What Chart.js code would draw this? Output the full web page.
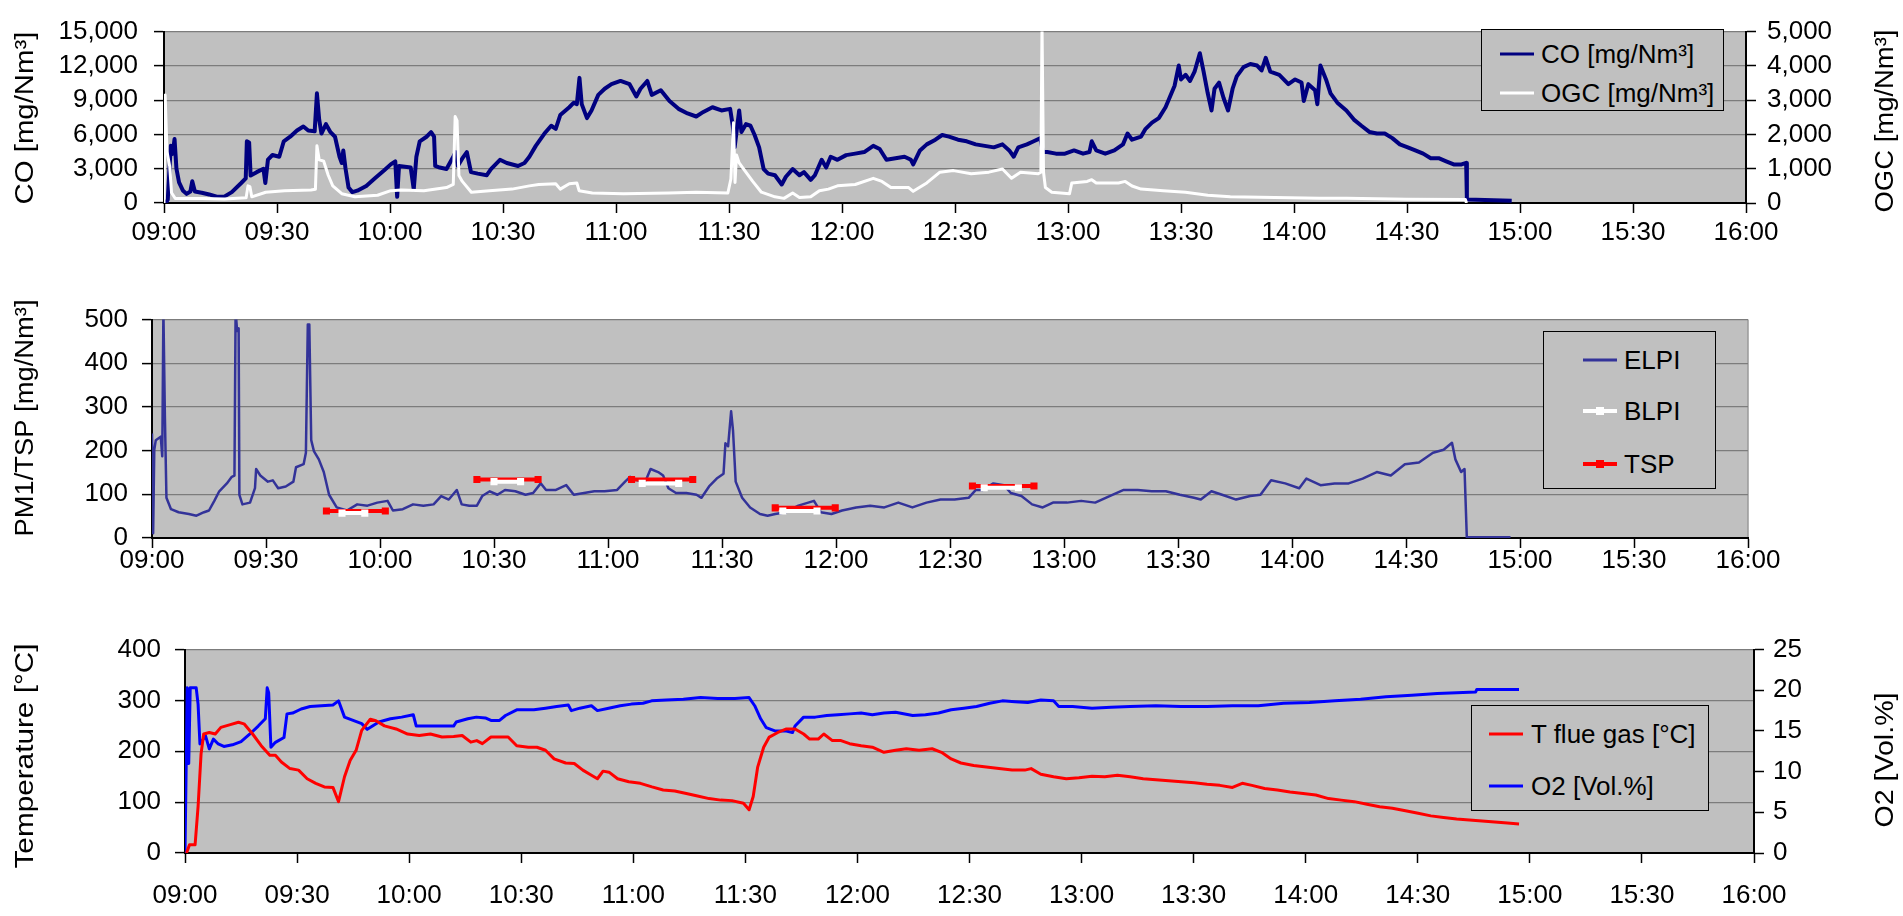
<!DOCTYPE html>
<html>
<head>
<meta charset="utf-8">
<script src="https://cdn.jsdelivr.net/npm/chart.js@4.4.1/dist/chart.umd.min.js"></script>
<style>
  body { margin: 0; background: #fff; width: 1903px; height: 916px; overflow: hidden; position: relative;
         font-family: "Liberation Sans", Arial, sans-serif; }
  canvas { position: absolute; left: 0; }
  .lg { position: absolute; background: #c0c0c0; border: 1px solid #000; box-sizing: border-box; z-index: 5; }
  .sw { position: absolute; width: 34px; transform: translateY(-50%); }
  .mk { position: absolute; width: 8px; height: 8px; transform: translate(-50%, -50%); }
  .tx { position: absolute; font-size: 26px; line-height: 30px; transform: translateY(-50%); white-space: nowrap; color: #000; }
</style>
</head>
<body>
<canvas id="c1" width="1903" height="260" style="top:0"></canvas>
<canvas id="c2" width="1903" height="300" style="top:290px"></canvas>
<canvas id="c3" width="1903" height="296" style="top:620px"></canvas>

<div class="lg" style="left:1481px;top:29px;width:243px;height:82px">
  <div class="sw" style="left:18px;top:24px;height:3px;background:#000080"></div>
  <div class="tx" style="left:59px;top:24px">CO [mg/Nm³]</div>
  <div class="sw" style="left:18px;top:63px;height:3px;background:#fff"></div>
  <div class="tx" style="left:59px;top:63px">OGC [mg/Nm³]</div>
</div>
<div class="lg" style="left:1543px;top:331px;width:173px;height:158px">
  <div class="sw" style="left:39px;top:28px;height:3px;background:#333399"></div>
  <div class="tx" style="left:80px;top:28px">ELPI</div>
  <div class="sw" style="left:39px;top:79px;height:4px;background:#fff"></div>
  <div class="mk" style="left:56px;top:79px;background:#fff"></div>
  <div class="tx" style="left:80px;top:79px">BLPI</div>
  <div class="sw" style="left:39px;top:132px;height:4px;background:#f00"></div>
  <div class="mk" style="left:56px;top:132px;background:#f00"></div>
  <div class="tx" style="left:80px;top:132px">TSP</div>
</div>
<div class="lg" style="left:1471px;top:705px;width:238px;height:106px">
  <div class="sw" style="left:17px;top:28px;height:3px;background:#f00"></div>
  <div class="tx" style="left:59px;top:28px">T flue gas [°C]</div>
  <div class="sw" style="left:17px;top:80px;height:3px;background:#00f"></div>
  <div class="tx" style="left:59px;top:80px">O2 [Vol.%]</div>
</div>

<script>
// time axis in minutes after midnight, 09:00 .. 16:00
const TIME_LABELS = ['09:00', '09:30', '10:00', '10:30', '11:00', '11:30', '12:00', '12:30',
  '13:00', '13:30', '14:00', '14:30', '15:00', '15:30', '16:00'];

// [minute, mg/Nm3]
const CO = [[540.5,0],[541,300],[541.8,5000],[542.3,4300],[542.8,5600],[543.3,3000],[544,1800],[545,1100],[546,800],[547,1000],[547.5,1900],[548.2,1000],[550,900],[552,750],[554,550],[556,560],[558,950],[560.5,1750],[561.7,2160],[562,5400],[562.6,5300],[563,2400],[564.6,2700],[566.4,3000],[566.9,1750],[567.6,3800],[568.8,4200],[570.6,4050],[571.8,5400],[573.5,5800],[575.3,6350],[577,6700],[578.3,6350],[580,6270],[580.6,9600],[581.2,7300],[581.8,6080],[583,6900],[584.2,6200],[585.4,5800],[586.6,4050],[587.2,3500],[587.6,4600],[588.2,3000],[589,1350],[590,950],[591.3,1080],[593.7,1490],[596,2160],[598.4,2840],[600.2,3380],[601.4,3650],[601.9,540],[602.4,3240],[605.5,3100],[606.3,1200],[607,4050],[607.9,5400],[609.7,5800],[610.9,6200],[611.7,5800],[612,3240],[613.2,3100],[615,2970],[616.8,4050],[617.4,4460],[618,3240],[619.2,3900],[620.4,4460],[621.5,2700],[623.3,2570],[625.7,2430],[626.8,2970],[629.2,3780],[631,3500],[634,3240],[635.7,3500],[637,4050],[638.7,5000],[641,6080],[642.8,6760],[644,6490],[645.2,7700],[647.6,8380],[648.8,8780],[649.6,8650],[650.3,10950],[650.9,8650],[652.3,7430],[653.5,8100],[655.3,9460],[657,10000],[658.8,10400],[661.2,10680],[663.6,10400],[665.4,9320],[666.5,10000],[668.3,10680],[669.5,9460],[671.9,9860],[674.2,8920],[676.6,8240],[679,7840],[681.3,7570],[683.2,7970],[685.6,8380],[688,8100],[690.3,8240],[691,6760],[691.5,4870],[692.7,8100],[693.3,6220],[694.5,6900],[695.7,6760],[696.8,5950],[698,4870],[699.2,2970],[700.4,2570],[702.2,2430],[704,1620],[705.1,2300],[706.9,2970],[708.7,2430],[709.9,2700],[711.7,2030],[712.8,2430],[714.6,3780],[715.8,3100],[717,4050],[718.8,3780],[721.1,4190],[723.5,4320],[725.9,4460],[728.3,5000],[730,4730],[731.8,3780],[734.2,3920],[736.6,4050],[738.3,3780],[738.9,3380],[740.7,4600],[742.5,5130],[744.8,5540],[746.6,5950],[748.4,5810],[750.8,5540],[753.1,5400],[755.5,5130],[757.9,5000],[760.3,4870],[762.6,5130],[764.4,4600],[765.6,4050],[766.8,4870],[769.1,5130],[770.9,5400],[772.7,5680],[773.3,4460],[774.5,4460],[776.8,4320],[779.2,4320],[781.6,4600],[784,4320],[785.7,4460],[786.3,5400],[787.5,4600],[789.9,4320],[792.3,4600],[794.6,5130],[795.8,6080],[797,5540],[799.4,5810],[800.6,6490],[802.3,7030],[804.1,7430],[805.9,8380],[807.1,9320],[808.3,10270],[809.4,12030],[810,10810],[811.2,11220],[812.4,10680],[813.6,11490],[815,13110],[816,11490],[817.1,9600],[818.1,8100],[818.9,10000],[820.1,10540],[821.3,9190],[822.5,8100],[823.7,10000],[824.8,11080],[826.6,11890],[828.4,12160],[830.2,12030],[831.4,11600],[832.5,12700],[833.7,11490],[836.1,11220],[838.5,10400],[840.3,10810],[842,10540],[842.6,8920],[843.8,10400],[845.6,9860],[846.2,8650],[847,12030],[848.5,10810],[849.7,9600],[851.5,8780],[853.9,8100],[855.9,7300],[857.9,6760],[860,6220],[862,6080],[864.1,6080],[866.1,5680],[868.1,5130],[870.2,4870],[872.2,4600],[874.3,4320],[876.3,3920],[878.4,3920],[880.4,3650],[882.4,3380],[884.5,3380],[885.7,3510],[885.9,300],[897.8,200]];

const OGC = [[540,0],[540.3,3150],[540.8,1500],[541.5,1080],[542,300],[543,130],[550,130],[556,120],[561.8,150],[562.3,500],[562.8,480],[563.3,180],[567,315],[572,360],[579,380],[580.2,400],[580.6,1670],[581.2,1260],[582.4,1220],[583.6,810],[584.8,500],[587.2,270],[590.7,180],[596.7,225],[600.2,360],[603,380],[609,360],[615,450],[616.8,540],[617.3,2520],[617.8,2400],[618.3,800],[619.2,630],[621.6,315],[626.4,360],[632.4,405],[637,500],[639.5,540],[644,560],[645.2,405],[647.6,560],[649.6,585],[650.2,360],[653.7,290],[662,270],[674,290],[681.3,315],[689.7,290],[690.5,700],[691.2,2340],[691.6,600],[692,1400],[692.7,1170],[693.9,990],[696.3,630],[698.6,315],[702.2,180],[704.6,135],[706.9,290],[708.7,160],[711.7,180],[714,360],[716.4,405],[718.8,500],[723.5,540],[728.3,720],[730.6,630],[733,450],[737.7,450],[738.9,340],[742.5,585],[746,900],[749.6,945],[754.3,855],[759,900],[762.6,990],[765,720],[767.4,900],[772.1,855],[772.8,900],[773.1,5200],[773.5,900],[774,450],[775.7,315],[780.4,270],[781,585],[785.1,630],[786.3,680],[787.5,585],[793.4,585],[795.2,630],[797,495],[799.4,405],[805.3,360],[811.2,315],[817.1,225],[823.1,180],[834.9,160],[846.7,135],[854,135],[870,110],[885.5,100],[885.8,0]];

const ELPI = [[540,239],[540.3,11],[540.6,202],[541,224],[542.3,232],[542.7,187],[543,520],[543.4,275],[543.8,92],[545,66],[547,59],[549.7,55],[551.7,51],[553.7,59],[555,63],[556.4,85],[557.7,107],[559.7,125],[561,140],[561.7,143],[562,520],[562.4,474],[562.8,480],[563,99],[563.8,77],[565.8,81],[567.1,114],[567.4,158],[568.5,143],[570.5,129],[571.8,132],[573.2,114],[575.2,118],[577.2,129],[577.9,162],[579.9,169],[580.5,195],[581,489],[581.4,489],[581.9,224],[582.6,199],[583.9,180],[585.2,151],[586.6,99],[588.6,70],[591.3,63],[594,77],[596.7,74],[599.3,81],[602,85],[603.4,63],[606,66],[608.7,77],[611.4,74],[614.1,77],[616.1,96],[618.1,88],[620.2,110],[621.5,77],[623.5,74],[625.5,74],[626.9,96],[628.9,107],[630.9,99],[632.9,110],[635.6,107],[638.3,99],[640.3,103],[642.3,125],[643.7,110],[646.3,110],[649,121],[651,99],[653.7,103],[656.4,107],[659.1,107],[662.4,110],[664.5,129],[665.8,140],[667.8,132],[669.8,129],[671.2,158],[673.2,151],[674.5,143],[675.9,114],[677.9,103],[680.6,103],[683.3,99],[684.6,92],[686.6,118],[688.6,136],[690.4,147],[690.9,217],[691.6,210],[692.4,290],[692.9,246],[693.6,129],[695.3,92],[697.4,70],[700,55],[702,51],[704,55],[706.8,59],[710.1,74],[714.2,85],[716,59],[718.8,55],[721.6,63],[725.3,70],[729,74],[732.7,70],[736.4,81],[740.1,70],[743.8,81],[747.5,88],[751.2,88],[754.9,92],[756.8,110],[758.6,110],[761.4,125],[764.2,121],[766,103],[768.8,96],[771.6,77],[774.4,70],[777.1,81],[780.8,81],[784.5,85],[788.2,81],[792,96],[795.7,110],[799.4,110],[803.1,107],[806.8,107],[810.5,99],[814.2,92],[816,88],[818.8,107],[821.6,99],[825.3,88],[829,96],[831.7,99],[834.5,132],[838.2,125],[841.9,114],[843.8,136],[847.5,121],[851.2,125],[854.9,125],[858.6,136],[862.3,151],[866,143],[869.7,169],[873.4,173],[877.1,195],[879.9,202],[882.1,218],[883,180],[884.5,151],[885.4,158],[886,2],[897.5,2]];

// [start minute, end minute, mg/Nm3]
const TSP = [[585.9,601.4,62],[625.5,641.6,134],[666.2,682.3,134],[704,719.8,69],[755.9,772.1,119]];
const BLPI = [[590,596,57],[630,637,129],[669,678.6,125],[706,715,62],[759,768,115]];

// [minute, °C]
const TFLUE = [[540.4,0],[541.2,16],[542.7,16],[543.5,91],[544.3,195],[545,234],[546.5,237],[548.1,234],[549.6,247],[551.9,252],[554.3,257],[555.8,254],[558.1,234],[560.4,211],[562.7,192],[564.2,192],[565.8,179],[568.1,166],[570.4,163],[572.7,146],[575,137],[577.3,130],[579.6,129],[581.1,101],[582.7,150],[584.2,182],[585.8,202],[587.3,241],[589.6,263],[591.1,260],[593.4,250],[596.5,244],[599.6,234],[602.7,231],[605.7,234],[608.8,228],[611.9,229],[614.2,231],[616.5,218],[618.1,221],[619.6,215],[621.9,228],[624.2,228],[626.5,228],[628.8,211],[631.9,208],[634.2,208],[636.5,202],[638.8,185],[641.9,177],[644.2,176],[646.5,163],[648.8,153],[650.4,146],[651.9,161],[653.5,159],[655.8,146],[658.8,140],[661.9,137],[665,130],[668,124],[671.1,122],[674.2,117],[677.2,112],[680.3,107],[683.4,104],[686.4,103],[689.5,98],[691,85],[692.1,111],[693.3,169],[694.9,208],[696.4,228],[698.7,237],[701,244],[703.3,244],[705.6,234],[707.2,224],[709.5,224],[711,234],[713.3,221],[715.6,221],[717.9,215],[721,211],[724,208],[727.1,198],[730.2,202],[733.1,205],[736.5,202],[740,205],[742.5,198],[745.1,185],[747.7,177],[751.1,172],[754.5,169],[757.9,166],[761.4,163],[764.8,163],[766.5,166],[769.1,155],[772.5,150],[775.9,146],[779.3,148],[782.8,151],[786.2,150],[789.6,153],[793,150],[796.5,146],[799.9,144],[803.3,142],[806.7,140],[810.2,138],[813.6,135],[817,133],[820.4,129],[823,137],[825.6,133],[829,127],[832.4,124],[835.8,120],[839.3,117],[842.7,114],[846.1,107],[849.5,104],[853,101],[856.4,96],[859.8,91],[863.2,88],[866.7,83],[870.1,78],[873.5,73],[876.9,70],[880.4,67],[883.8,65],[887.2,63],[890.6,61],[894,59],[897.1,57]];

// [minute, Vol.%]
const O2 = [[540,0],[540.6,20.3],[541,11],[541.4,20.3],[543,20.3],[543.5,18.3],[544,13.4],[545.5,14.4],[546.5,12.8],[547.6,14],[548.9,13.4],[550.4,13.1],[552.7,13.3],[555,13.7],[557.3,14.6],[559.6,15.6],[561.5,16.5],[562,20.3],[562.4,19.7],[563,13],[564.2,13.6],[566.5,14.2],[567.3,17.1],[568.8,17.2],[571.1,17.7],[573.5,18],[576.5,18.1],[579.6,18.2],[581.1,18.7],[582.7,16.7],[585,16.3],[587.3,15.9],[588.8,15.2],[591.9,16.1],[595,16.5],[598,16.7],[601.1,17],[601.9,15.6],[611.9,15.6],[612.6,16.1],[615.7,16.5],[618,16.7],[620.4,16.6],[621.9,16.3],[624.2,16.3],[625.8,16.9],[628.8,17.6],[633.4,17.6],[636.5,17.8],[639.5,18],[642.6,18.2],[643.4,17.5],[645.7,17.8],[648.8,18.1],[650.4,17.5],[653.4,17.8],[656.5,18.1],[659.5,18.3],[662.6,18.4],[664.9,18.7],[668.8,18.8],[673.4,18.9],[678,19.1],[682.6,19],[687.2,19],[691,19.1],[692.5,18.1],[694.1,16.5],[695.6,15.4],[697.9,15],[701,15],[702.6,14.8],[703.3,15.6],[705.6,16.7],[708.7,16.7],[711.8,16.9],[714.8,17],[717.9,17.1],[721,17.2],[724,17],[727.1,17.2],[730.2,17.3],[734.8,16.9],[738.2,17],[741.7,17.2],[745.1,17.6],[748.5,17.8],[751.9,18],[755.4,18.4],[758.8,18.7],[762.2,18.6],[765.6,18.5],[769.1,18.8],[772.5,18.7],[773.9,18],[777.6,18],[782.8,17.8],[787.9,17.9],[793,18],[799.9,18.1],[806.7,18],[813.6,18],[820.4,18.1],[827.3,18.1],[834.1,18.4],[841,18.5],[847.8,18.7],[854.7,18.9],[861.5,19.2],[868.4,19.4],[875.2,19.6],[880.4,19.7],[885.5,19.8],[885.8,20.1],[897.1,20.1]];

const FONT = '"Liberation Sans", Arial, sans-serif';

const pts = (arr) => arr.map(([x, y]) => ({ x, y }));
const segs = (arr) => {
  const out = [];
  arr.forEach(([a, b, v]) => { out.push({ x: a, y: v }, { x: b, y: v }, { x: b, y: null }); });
  return out;
};

// grey plot area, optional light right edge
const plotBg = {
  id: 'plotBg',
  beforeDraw(chart, args, opts) {
    const { ctx, chartArea: a } = chart;
    ctx.save();
    ctx.fillStyle = '#c0c0c0';
    ctx.fillRect(a.left, a.top, a.right - a.left, a.bottom - a.top);
    if (opts.rightEdge) {
      ctx.strokeStyle = '#9a9a9a';
      ctx.lineWidth = 1.5;
      ctx.beginPath();
      ctx.moveTo(a.right, a.top);
      ctx.lineTo(a.right, a.bottom);
      ctx.stroke();
    }
    ctx.restore();
  }
};

// rotated axis titles reading bottom to top
const axisTitles = {
  id: 'axisTitles',
  afterDraw(chart, args, opts) {
    const ctx = chart.ctx;
    (opts.items || []).forEach(t => {
      ctx.save();
      ctx.font = '26px ' + FONT;
      ctx.fillStyle = '#000';
      ctx.translate(t.x, t.y);
      ctx.rotate(-Math.PI / 2);
      const w = ctx.measureText(t.text).width;
      ctx.scale(t.len / w, 1);
      ctx.textAlign = 'center';
      ctx.textBaseline = 'alphabetic';
      ctx.fillText(t.text, 0, 0);
      ctx.restore();
    });
  }
};

const xScale = (h, pad) => ({
  type: 'linear', min: 540, max: 960,
  ticks: {
    stepSize: 30, autoSkip: false, maxRotation: 0, padding: pad, color: '#000',
    font: { family: FONT, size: 26, lineHeight: 1 },
    callback: (v) => TIME_LABELS[Math.round((v - 540) / 30)]
  },
  grid: { drawOnChartArea: false, tickLength: 10, tickColor: '#000', tickWidth: 1.5 },
  border: { color: '#000', width: 2 },
  afterFit(s) { s.height = h; }
});

const yScale = (pos, w, max, step, pad, fmt, grid) => ({
  type: 'linear', position: pos, min: 0, max: max,
  ticks: {
    stepSize: step, padding: pad, color: '#000',
    font: { family: FONT, size: 26 },
    callback: fmt
  },
  grid: grid
    ? { color: '#7c7c7c', lineWidth: 1.2, tickLength: 10, tickColor: '#000', tickWidth: 1.5 }
    : { drawOnChartArea: false, tickLength: 10, tickColor: '#000', tickWidth: 1.5 },
  border: { color: '#000', width: 2 },
  afterFit(s) { s.width = w; }
});

const thousands = (v) => v.toLocaleString('en-US');
const plain = (v) => String(v);

const base = (padding, plugins) => ({
  responsive: false,
  animation: false,
  events: [],
  layout: { padding },
  elements: { line: { tension: 0, borderJoinStyle: 'round' }, point: { radius: 0 } },
  plugins: Object.assign({ legend: { display: false }, tooltip: { enabled: false } }, plugins)
});

new Chart('c1', {
  type: 'line',
  data: {
    datasets: [
      { label: 'OGC [mg/Nm³]', data: pts(OGC), yAxisID: 'y1', borderColor: '#ffffff', borderWidth: 3, order: 1 },
      { label: 'CO [mg/Nm³]', data: pts(CO), yAxisID: 'y', borderColor: '#000080', borderWidth: 4, order: 2 }
    ]
  },
  options: Object.assign(base({ top: 18, left: 0, right: 0, bottom: 0 }, {
    plotBg: {},
    axisTitles: { items: [
      { text: 'CO [mg/Nm³]', x: 33, y: 118, len: 173 },
      { text: 'OGC [mg/Nm³]', x: 1893, y: 121, len: 183 }
    ] }
  }), {
    scales: {
      x: xScale(57, 7),
      y: yScale('left', 164, 15000, 3000, 16, thousands, true),
      y1: yScale('right', 157, 5000, 1000, 11, thousands, false)
    }
  }),
  plugins: [plotBg, axisTitles]
});

new Chart('c2', {
  type: 'line',
  data: {
    datasets: [
      { label: 'ELPI', data: pts(ELPI), borderColor: '#333399', borderWidth: 2.5, order: 3 },
      { label: 'BLPI', data: segs(BLPI), borderColor: '#ffffff', borderWidth: 4, spanGaps: false,
        pointRadius: 5, pointStyle: 'rect', pointBackgroundColor: '#ffffff', pointBorderWidth: 0, order: 1 },
      { label: 'TSP', data: segs(TSP), borderColor: '#ff0000', borderWidth: 4, spanGaps: false,
        pointRadius: 5, pointStyle: 'rect', pointBackgroundColor: '#ff0000', pointBorderWidth: 0, order: 2 }
    ]
  },
  options: Object.assign(base({ top: 22, left: 0, right: 155, bottom: 0 }, {
    plotBg: { rightEdge: true },
    axisTitles: { items: [
      { text: 'PM1/TSP [mg/Nm³]', x: 33, y: 128, len: 237 }
    ] }
  }), {
    scales: {
      x: xScale(52, 0),
      y: yScale('left', 152, 500, 100, 14, plain, true)
    }
  }),
  plugins: [plotBg, axisTitles]
});

new Chart('c3', {
  type: 'line',
  data: {
    datasets: [
      { label: 'T flue gas [°C]', data: pts(TFLUE), yAxisID: 'y', borderColor: '#ff0000', borderWidth: 3, order: 1 },
      { label: 'O2 [Vol.%]', data: pts(O2), yAxisID: 'y1', borderColor: '#0000ff', borderWidth: 3, order: 2 }
    ]
  },
  options: Object.assign(base({ top: 28, left: 0, right: 0, bottom: 0 }, {
    plotBg: {},
    axisTitles: { items: [
      { text: 'Temperature [°C]', x: 33, y: 136, len: 225 },
      { text: 'O2 [Vol.%]', x: 1893, y: 140, len: 135 }
    ] }
  }), {
    scales: {
      x: xScale(63, 20),
      y: yScale('left', 185, 400, 100, 14, plain, true),
      y1: yScale('right', 149, 25, 5, 9, plain, false)
    }
  }),
  plugins: [plotBg, axisTitles]
});
</script>
</body>
</html>
